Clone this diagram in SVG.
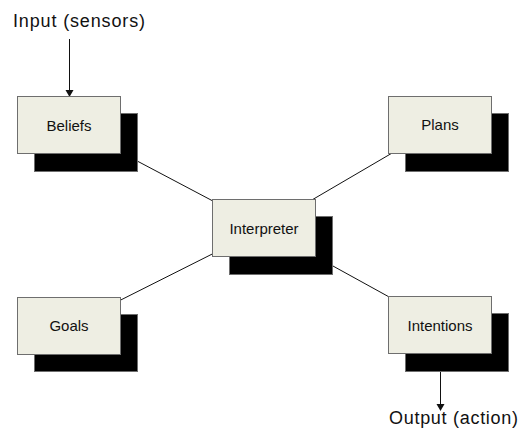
<svg xmlns="http://www.w3.org/2000/svg" width="524" height="444" viewBox="0 0 524 444">
<style>
.front{fill:#EEEEE3;stroke:#6E6E6E;stroke-width:1}
.shadow{fill:#000;stroke:#6E6E6E;stroke-width:1}
.lbl{font-family:"Liberation Sans",Arial,sans-serif;font-size:15px;fill:#111;text-anchor:middle}
.outer{font-family:"Liberation Sans",Arial,sans-serif;font-size:18px;fill:#111}
.conn{stroke:#111;stroke-width:1;fill:none}
</style>
<rect width="524" height="444" fill="#fff"/>
<g id="connectors">
<line class="conn" x1="69" y1="125" x2="264" y2="228"/>
<line class="conn" x1="440" y1="125" x2="264" y2="228"/>
<line class="conn" x1="69" y1="326" x2="264" y2="228"/>
<line class="conn" x1="440" y1="325" x2="264" y2="228"/>
<line class="conn" x1="69.5" y1="39" x2="69.5" y2="91"/>
<polygon points="65.5,90 73.5,90 69.5,97" fill="#111"/>
<line class="conn" x1="440.5" y1="371" x2="440.5" y2="405"/>
<polygon points="436.5,404 444.5,404 440.5,411" fill="#111"/>
</g>
<g id="input">
<text class="outer" x="13" y="27" textLength="132" lengthAdjust="spacing">Input (sensors)</text>
</g>
<g id="output">
<text class="outer" x="389" y="424" textLength="129" lengthAdjust="spacing">Output (action)</text>
</g>
<g id="beliefs">
<rect class="shadow" x="34.5" y="113.5" width="103" height="58"/>
<rect class="front" x="17.5" y="96.5" width="103" height="57"/>
<text class="lbl" x="69" y="131">Beliefs</text>
</g>
<g id="plans">
<rect class="shadow" x="405.5" y="113.5" width="103" height="58"/>
<rect class="front" x="388.5" y="96.5" width="103" height="57"/>
<text class="lbl" x="440" y="130">Plans</text>
</g>
<g id="interpreter">
<rect class="shadow" x="229.5" y="216.5" width="103" height="58"/>
<rect class="front" x="212.5" y="199.5" width="103" height="57"/>
<text class="lbl" x="264" y="234">Interpreter</text>
</g>
<g id="goals">
<rect class="shadow" x="34.5" y="314.5" width="103" height="57"/>
<rect class="front" x="17.5" y="297.5" width="103" height="57"/>
<text class="lbl" x="69" y="331">Goals</text>
</g>
<g id="intentions">
<rect class="shadow" x="405.5" y="313.5" width="103" height="58"/>
<rect class="front" x="388.5" y="296.5" width="103" height="57"/>
<text class="lbl" x="440" y="331">Intentions</text>
</g>
</svg>
